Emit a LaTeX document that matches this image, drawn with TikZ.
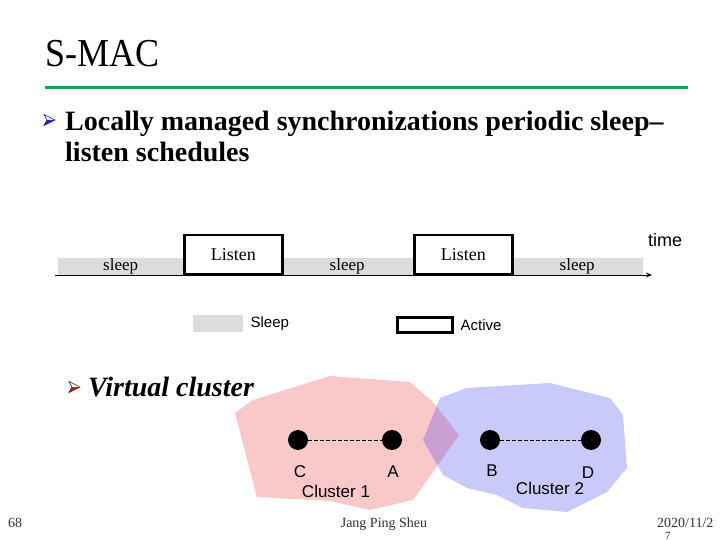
\documentclass[tikz,border=0pt]{standalone}
\usepackage{fontspec}
\setmainfont{Liberation Serif}
\setsansfont{Liberation Sans}
\usetikzlibrary{arrows.meta,positioning}

\definecolor{slidegreen}{RGB}{24,160,90}
\definecolor{sleepgray}{RGB}{220,220,220}
\definecolor{pinkzone}{RGB}{249,200,200}
\definecolor{bluezone}{RGB}{202,202,250}
\definecolor{mixzone}{RGB}{200,160,212}
\definecolor{bulletblue}{RGB}{30,40,200}
\definecolor{bulletred}{RGB}{205,20,30}

\newcommand{\tallt}[1]{\scalebox{1}[1.1]{#1}}
\newcommand{\arrowbullet}[3]{%
  \fill[white] (#1,#2-5.5) -- (#1+11,#2) -- (#1+3,#2) -- cycle;
  \fill[#3] (#1,#2+5.5) -- (#1+11,#2) -- (#1+3,#2) -- cycle;
  \draw[#3!60!black,line width=0.6pt,line join=miter] (#1,#2-5.5) -- (#1+11,#2) -- (#1,#2+5.5) -- (#1+3,#2) -- cycle;}

\begin{document}
\begin{tikzpicture}[x=1pt,y=-1pt,
  sleepbar/.style={rectangle,fill=sleepgray,minimum height=17pt,inner sep=0pt,anchor=south west,font=\fontsize{17}{17}\selectfont},
  listenbox/.style={rectangle,draw=black,line width=2.5pt,fill=white,minimum width=98pt,minimum height=39pt,inner sep=0pt,anchor=south west,font=\fontsize{18}{18}\selectfont},
  dot/.style={circle,fill=black,minimum size=20pt,inner sep=0pt},
  lbl/.style={font=\sffamily\fontsize{17}{17}\selectfont,inner sep=0pt,anchor=base}]
\useasboundingbox[fill=white] (0,0) rectangle (720,540);

% title
\node[anchor=base west,inner sep=0pt,font=\fontsize{36}{36}\selectfont] (title) at (45,67) {\tallt{S-MAC}};
\coordinate (rulel) at (45,88);
\coordinate (ruler) at (688,88);
\draw[slidegreen,line width=3pt] (rulel) -- (ruler);

% first item
\arrowbullet{44}{120}{bulletblue}
\node[anchor=base west,inner sep=0pt,font=\bfseries\fontsize{28}{28}\selectfont] (item1) at (65,131) {Locally managed synchronizations periodic sleep–};
\node[anchor=base west,inner sep=0pt,font=\bfseries\fontsize{28}{28}\selectfont] (item1b) at (65,162) {listen schedules};

% schedule
\node[sleepbar,minimum width=125pt] (sleep1) at (58,275) {sleep};
\node[sleepbar,minimum width=132pt] (sleep2) at (281,275) {sleep};
\node[sleepbar,minimum width=132pt] (sleep3) at (511,275) {sleep};
\node[listenbox] (listen1) at (183,275) {Listen};
\node[listenbox] (listen2) at (413,275) {Listen};
\coordinate (t0) at (55,275);
\coordinate (t1) at (652,275);
\draw[line width=1pt,-{Stealth[length=6pt,width=5pt]}] (t0) -- (t1);
\node[anchor=base,inner sep=0pt,font=\sffamily\fontsize{18}{18}\selectfont] (time) at (665,246) {time};

% legend
\node[rectangle,fill=sleepgray,minimum width=50pt,minimum height=17pt,inner sep=0pt,anchor=north west] (legsleep) at (193,315) {};
\node[right=7pt of legsleep,inner sep=0pt,font=\sffamily\fontsize{15}{15}\selectfont] (legsleeptxt) {Sleep};
\node[rectangle,draw=black,line width=2.5pt,minimum width=55pt,minimum height=15pt,inner sep=0pt,anchor=north west] (legactive) at (396,316) {};
\node[right=7pt of legactive,inner sep=0pt,font=\sffamily\fontsize{15}{15}\selectfont] (legactivetxt) {Active};

% second item
\arrowbullet{69}{387}{bulletred}
\node[anchor=base west,inner sep=0pt,font=\bfseries\itshape\fontsize{28}{28}\selectfont] (item2) at (88,396) {Virtual cluster};

% clusters
\fill[pinkzone] (235,413) -- (253,400) -- (330,376) -- (410,382) -- (433,402) -- (459,435) -- (437,466) -- (413,500) -- (370,510) -- (330,501) -- (257,497) -- cycle;
\fill[bluezone] (423,440) -- (440,398) -- (467,388) -- (550,383) -- (610,398) -- (623,415) -- (627,468) -- (607,492) -- (567,512) -- (523,508) -- (497,495) -- (467,488) -- (443,475) -- cycle;
\begin{scope}
\clip (235,413) -- (253,400) -- (330,376) -- (410,382) -- (433,402) -- (459,435) -- (437,466) -- (413,500) -- (370,510) -- (330,501) -- (257,497) -- cycle;
\fill[mixzone] (423,440) -- (440,398) -- (467,388) -- (550,383) -- (610,398) -- (623,415) -- (627,468) -- (607,492) -- (567,512) -- (523,508) -- (497,495) -- (467,488) -- (443,475) -- cycle;
\end{scope}

\node[dot] (C) at (298,440) {};
\node[dot] (A) at (392,440) {};
\node[dot] (B) at (490,440) {};
\node[dot] (D) at (591,440) {};
\draw[dash pattern=on 4pt off 2pt,line width=0.8pt] (C) -- (A);
\draw[dash pattern=on 4pt off 2pt,line width=0.8pt] (B) -- (D);

\node[lbl] (labC) at (300,477) {C};
\node[lbl] (labA) at (393,477) {A};
\node[lbl] (labB) at (492,476) {B};
\node[lbl] (labD) at (588,478) {D};
\node[lbl] (clus1) at (336,497) {Cluster 1};
\node[lbl] (clus2) at (550,494) {Cluster 2};

% footer
\node[anchor=base west,inner sep=0pt,font=\fontsize{14}{14}\selectfont,text=black!80] (pageno) at (8,527) {68};
\node[anchor=base,inner sep=0pt,font=\fontsize{14}{14}\selectfont,text=black!80] (author) at (384,527) {Jang Ping Sheu};
\node[anchor=base west,inner sep=0pt,font=\fontsize{14}{14}\selectfont,text=black!80] (date) at (657,527) {2020/11/2};
\node[anchor=base west,inner sep=0pt,font=\fontsize{11}{11}\selectfont,text=black!80] (date7) at (665,539) {7};
\end{tikzpicture}
\end{document}
